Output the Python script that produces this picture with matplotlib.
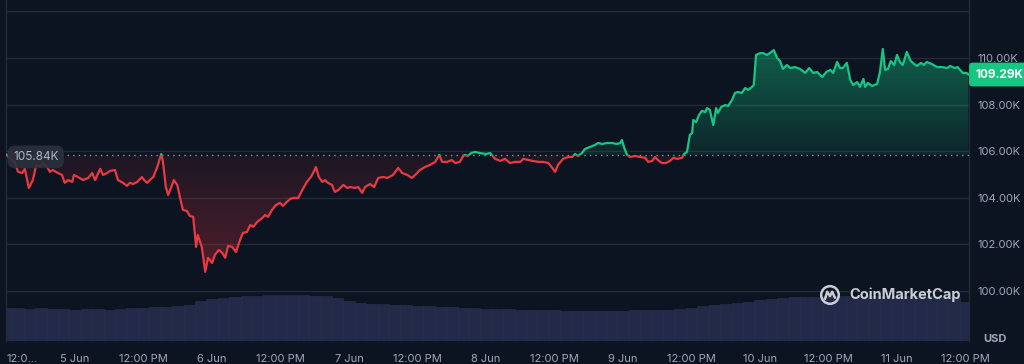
import numpy as np
import matplotlib
matplotlib.use("Agg")
import matplotlib.pyplot as plt
from matplotlib.path import Path
from matplotlib.patches import Rectangle, Circle
from matplotlib.colors import LinearSegmentedColormap

plt.rcParams['font.family'] = ['Inter', 'DejaVu Sans']

# ---------------- data ----------------
hours_since_start = [
    0.0, 1.5, 2.0, 2.7, 3.2, 3.9, 4.6, 5.2, 5.9, 6.4, 7.1, 7.6, 8.1, 9.0, 9.7, 10.2, 10.8, 11.5, 11.8,
    12.5, 13.4, 14.3, 15.0, 15.5, 16.4, 16.9, 17.6, 18.1, 19.0, 19.5, 20.4, 21.1, 21.6, 22.2, 22.9,
    23.7, 24.1, 24.6, 25.1, 25.7, 26.4, 27.1, 27.4, 27.9, 28.3, 28.8, 29.3, 29.9, 30.4, 30.9, 31.6,
    32.1, 32.7, 33.2, 33.5, 34.2, 34.8, 35.3, 36.0, 36.5, 37.2, 37.8, 38.3, 38.8, 39.5, 40.2, 40.9,
    41.4, 42.1, 42.7, 43.2, 43.9, 44.8, 45.3, 45.8, 46.5, 47.2, 47.9, 48.4, 49.1, 49.7, 50.2, 51.1,
    51.8, 52.6, 53.3, 53.7, 54.2, 54.7, 55.3, 55.8, 56.3, 57.0, 57.5, 58.1, 59.0, 59.7, 60.2, 61.1,
    61.6, 62.3, 62.8, 63.7, 64.4, 65.1, 66.0, 66.7, 67.7, 68.6, 69.3, 70.2, 71.0, 71.6, 72.4, 73.3,
    74.2, 75.1, 75.8, 76.3, 77.2, 78.0, 78.6, 79.4, 80.0, 80.3, 80.8, 81.4, 82.1, 82.9, 84.0, 84.7,
    85.6, 86.5, 87.3, 88.2, 89.1, 90.0, 90.5, 91.4, 92.2, 93.1, 94.0, 94.9, 95.6, 96.1, 96.6, 97.5,
    98.4, 99.1, 99.6, 100.1, 100.8, 101.3, 102.2, 103.1, 103.6, 104.3, 105.2, 106.1, 106.9, 107.5,
    107.8, 108.2, 108.7, 109.2, 110.1, 111.0, 111.9, 112.4, 113.1, 113.6, 114.1, 114.8, 115.5, 116.2,
    116.8, 117.5, 118.3, 118.7, 119.2, 119.7, 120.1, 120.3, 120.8, 121.3, 121.8, 122.4, 122.7, 123.2,
    123.8, 124.3, 124.6, 125.2, 125.9, 126.4, 127.1, 127.6, 128.1, 128.8, 129.4, 129.9, 130.6, 130.9,
    131.3, 132.0, 132.5, 133.2, 133.7, 134.4, 135.0, 135.5, 136.0, 136.7, 137.3, 138.1, 139.0, 139.9,
    140.6, 141.3, 142.0, 142.9, 143.6, 144.3, 144.8, 145.5, 146.0, 146.5, 147.2, 147.8, 148.3, 149.0,
    149.5, 150.1, 150.4, 150.9, 151.6, 152.5, 153.0, 153.5, 153.9, 154.4, 154.9, 155.5, 156.0, 156.5,
    157.0, 157.7, 158.4, 159.0, 159.5, 160.2, 160.7, 161.2, 162.1, 163.0, 163.9, 164.8, 165.3, 166.1,
    166.6, 167.5, 168.2, 168.5,
]
price_k = [
    105.84, 105.48, 105.12, 105.06, 105.24, 104.42, 104.76, 105.41, 105.32, 105.49, 105.32, 105.11,
    105.19, 105.06, 104.98, 104.64, 104.76, 104.68, 104.98, 104.89, 104.76, 104.85, 105.06, 104.76,
    105.24, 104.98, 105.06, 105.15, 105.19, 104.76, 104.64, 104.51, 104.64, 104.59, 104.68, 104.89,
    104.76, 104.64, 104.76, 104.89, 105.32, 105.88, 105.54, 104.46, 104.12, 104.42, 104.76, 104.55,
    103.99, 103.48, 103.43, 103.22, 103.18, 101.89, 102.40, 101.89, 100.82, 101.42, 101.20, 101.55,
    101.76, 101.63, 101.42, 101.93, 101.89, 101.67, 102.19, 102.49, 102.53, 102.83, 102.75, 102.96,
    103.13, 103.26, 103.18, 103.48, 103.69, 103.78, 103.65, 103.82, 103.95, 103.99, 103.99, 104.33,
    104.68, 104.89, 105.06, 105.32, 104.89, 104.68, 104.76, 104.64, 104.55, 104.25, 104.33, 104.55,
    104.42, 104.46, 104.42, 104.46, 104.21, 104.46, 104.59, 104.46, 104.85, 104.89, 104.85, 104.98,
    105.28, 105.06, 104.98, 104.85, 104.98, 105.19, 105.32, 105.41, 105.54, 105.84, 105.54, 105.54,
    105.62, 105.49, 105.54, 105.79, 105.84, 105.79, 105.92, 105.97, 105.92, 105.88, 105.92, 105.67,
    105.58, 105.67, 105.49, 105.54, 105.54, 105.67, 105.62, 105.58, 105.54, 105.54, 105.49, 105.28,
    105.11, 105.41, 105.67, 105.75, 105.75, 105.88, 105.79, 105.92, 106.09, 106.18, 106.27, 106.35,
    106.31, 106.35, 106.35, 106.31, 106.35, 106.48, 106.14, 105.84, 105.75, 105.79, 105.75, 105.71,
    105.54, 105.58, 105.75, 105.62, 105.49, 105.49, 105.58, 105.71, 105.67, 105.71, 105.88, 105.97,
    106.70, 106.78, 107.34, 107.25, 107.55, 107.73, 107.68, 107.85, 107.77, 107.12, 107.85, 107.64,
    107.90, 107.98, 107.94, 108.20, 108.50, 108.54, 108.50, 108.71, 108.63, 108.76, 108.84, 110.13,
    110.21, 110.21, 110.13, 110.21, 110.34, 110.00, 109.87, 109.53, 109.70, 109.57, 109.61, 109.53,
    109.36, 109.57, 109.36, 109.40, 109.18, 109.40, 109.49, 109.36, 109.83, 109.57, 109.57, 109.79,
    109.06, 108.84, 108.97, 108.76, 109.10, 108.76, 108.93, 108.80, 108.88, 109.40, 110.39, 109.49,
    109.53, 109.87, 109.70, 110.13, 109.83, 109.70, 110.26, 109.87, 109.74, 109.66, 109.79, 109.70,
    109.83, 109.74, 109.61, 109.61, 109.57, 109.66, 109.57, 109.61, 109.36, 109.36, 109.29,
]
baseline_k = 105.84
last_price_k = 109.29

volume_hours = list(range(0, 169, 2))
volume_b = [
    32, 32, 31, 32, 31, 31, 30, 31, 31, 30, 31, 32, 32, 33, 33, 34, 35, 39, 41, 42, 43, 44, 44, 45,
    45, 45, 45, 44, 44, 42, 39, 37, 36, 36, 35, 35, 34, 34, 33, 33, 32, 32, 31, 31, 31, 30, 30, 30,
    30, 29, 29, 29, 29, 29, 29, 30, 30, 30, 30, 31, 32, 34, 35, 36, 37, 38, 40, 41, 42, 43, 43, 43,
    44, 44, 44, 44, 44, 44, 44, 44, 44, 44, 44, 43, 38,
]

x_tick_hours = list(range(0, 169, 12))
x_tick_labels = ["12:0...", "5 Jun", "12:00 PM", "6 Jun", "12:00 PM", "7 Jun", "12:00 PM", "8 Jun",
                 "12:00 PM", "9 Jun", "12:00 PM", "10 Jun", "12:00 PM", "11 Jun", "12:00 PM"]
y_ticks = [100, 102, 104, 106, 108, 110, 112]
y_tick_labels = ["100.00K", "102.00K", "104.00K", "106.00K", "108.00K", "110.00K", ""]

# ---------------- style ----------------
BG = "#0d1421"
GRID = "#222a38"
GREEN = "#16c784"
RED = "#ea3943"
TXT = "#a1a7bb"

W, H = 1024, 364
fig = plt.figure(figsize=(W / 100, H / 100), dpi=100, facecolor=BG)
left, right, top, bottom = 6, 969, 0, 341
pos = [left / W, (H - bottom) / H, (right - left) / W, (bottom - top) / H]

xlim = (-0.1, 168.6)
ylim = (97.85, 112.49)

# volume axes (behind)
axv = fig.add_axes(pos, facecolor=BG, zorder=0)
axv.bar(volume_hours, volume_b, width=2.0, color="#222a48", align="center",
        edgecolor="#283152", linewidth=0.4)
axv.set_xlim(*xlim)
axv.set_ylim(0, 330)
axv.axis("off")

# price axes
ax = fig.add_axes(pos, facecolor="none", zorder=1)
ax.set_xlim(*xlim)
ax.set_ylim(*ylim)

x = np.array(hours_since_start)
y = np.array(price_k)

for yt in y_ticks:
    ax.axhline(yt, color=GRID, lw=1, zorder=1)

# gradient fills
def gradient_fill(where, cmap_colors, y0, y1):
    poly = ax.fill_between(x, y, baseline_k, where=where, interpolate=True,
                           color="none", linewidth=0)
    paths = poly.get_paths()
    if not paths:
        return
    cp = Path.make_compound_path(*paths)
    cmap = LinearSegmentedColormap.from_list("g", cmap_colors)
    grad = np.linspace(0, 1, 256).reshape(-1, 1)
    im = ax.imshow(grad, cmap=cmap, aspect="auto", origin="lower",
                   extent=[xlim[0], xlim[1], y0, y1], zorder=2, interpolation="bilinear")
    im.set_clip_path(cp, transform=ax.transData)

gradient_fill(y >= baseline_k, [(0.086, 0.78, 0.52, 0.10), (0.086, 0.78, 0.52, 0.42)],
              baseline_k, 110.4)
gradient_fill(y <= baseline_k, [(0.92, 0.22, 0.26, 0.30), (0.92, 0.22, 0.26, 0.07)],
              100.8, baseline_k)
ax.set_xlim(*xlim)
ax.set_ylim(*ylim)

# line, split colour at baseline
ln_g, = ax.plot(x, y, color=GREEN, lw=1.6, zorder=4, solid_joinstyle="round")
ln_r, = ax.plot(x, y, color=RED, lw=1.6, zorder=4, solid_joinstyle="round")
clip_g = Rectangle((xlim[0], baseline_k), xlim[1] - xlim[0], 20, transform=ax.transData)
clip_r = Rectangle((xlim[0], baseline_k - 20), xlim[1] - xlim[0], 20, transform=ax.transData)
ln_g.set_clip_path(clip_g)
ln_r.set_clip_path(clip_r)

# baseline dotted
ax.axhline(baseline_k, color="#8a90a0", lw=1, linestyle=(0, (1, 3)), zorder=3)

# spines
for s in ["top", "bottom"]:
    ax.spines[s].set_visible(False)
for s in ["left", "right"]:
    ax.spines[s].set_color(GRID)
    ax.spines[s].set_linewidth(1)

# ticks
ax.yaxis.tick_right()
ax.set_yticks(y_ticks)
ax.set_yticklabels(y_tick_labels)
ax.tick_params(axis="y", length=0, pad=6, labelsize=8, labelcolor=TXT)
ax.set_xticks(x_tick_hours)
ax.set_xticklabels(x_tick_labels)
ax.tick_params(axis="x", length=0, pad=9, labelsize=8, labelcolor=TXT)
ax.get_xticklabels()[0].set_ha("left")

# baseline label (left)
ax.annotate(f"{baseline_k:.2f}K", xy=(0, baseline_k), xycoords=("axes fraction", "data"),
            xytext=(7, -2), textcoords="offset pixels", ha="left", va="center",
            fontsize=8.5, color="#b0b6c4", zorder=6,
            bbox=dict(boxstyle="round,pad=0.45,rounding_size=0.6", fc="#2a303d", ec="none", alpha=0.9))

# last price label (right)
ax.annotate(f"{last_price_k:.2f}K", xy=(1, last_price_k), xycoords=("axes fraction", "data"),
            xytext=(6, 0), textcoords="offset pixels", ha="left", va="center",
            fontsize=8.5, color="white", fontweight="bold", zorder=6, annotation_clip=False,
            bbox=dict(boxstyle="round,pad=0.5,rounding_size=0.3", fc=GREEN, ec="none"))

# USD label
fig.text(995 / W, 1 - 339 / H, "USD", ha="center", va="center", fontsize=8,
         color=TXT, fontweight="bold")

# watermark
wm_col = (0.92, 0.93, 0.95, 0.85)
fig.text(849 / W, 1 - 295 / H, "CoinMarketCap", ha="left", va="center", fontsize=10.5,
         color=wm_col, fontweight="bold", zorder=10)
logo_ax = fig.add_axes([819 / W, 1 - 306 / H, 22 / W, 22 / H], zorder=10)
logo_ax.set_xlim(-1, 1)
logo_ax.set_ylim(-1, 1)
logo_ax.set_aspect("equal")
logo_ax.axis("off")
logo_ax.add_patch(Circle((0, 0), 0.8, fill=False, ec=wm_col, lw=1.8))
logo_ax.plot([-0.45, -0.25, 0.0, 0.2, 0.45], [-0.35, 0.3, -0.1, 0.3, -0.25],
             color=wm_col, lw=1.8, solid_joinstyle="round", solid_capstyle="round")

fig.savefig("out.png", dpi=100, facecolor=BG)
